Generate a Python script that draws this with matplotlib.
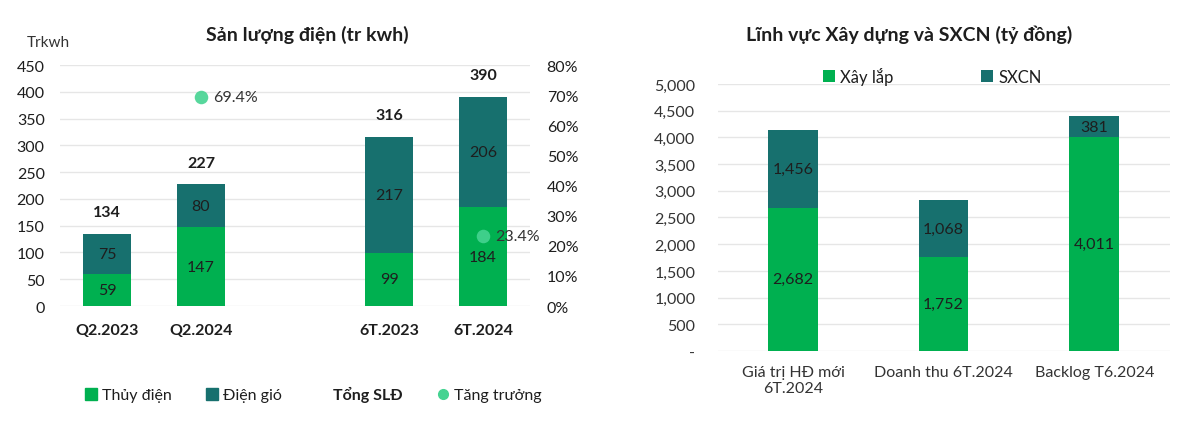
import matplotlib.pyplot as plt
from matplotlib.ticker import FuncFormatter
from matplotlib.lines import Line2D

plt.rcParams['font.family'] = ['Lato', 'DejaVu Sans']

GREEN = '#00B050'
TEAL = '#17706E'
DOT = '#45D391'
GRID = '#E6E6E6'
TXT = '#1E1E1E'

# left chart data
periods = ['Q2.2023', 'Q2.2024', '6T.2023', '6T.2024']
pos = [0, 1, 3, 4]
thuy_dien = [59, 147, 99, 184]
dien_gio = [75, 80, 217, 206]
tong_sld = [134, 227, 316, 390]
growth_pos = [1, 4]
growth = [0.694, 0.234]

# right chart data
groups = ['Giá trị HĐ mới\n6T.2024', 'Doanh thu 6T.2024', 'Backlog T6.2024']
xay_lap = [2682, 1752, 4011]
sxcn = [1456, 1068, 381]

fig = plt.figure(figsize=(12, 4.31), dpi=100)

# ---- left: San luong dien
ax = fig.add_axes([0.05, 0.2877, 0.3917, 0.559])
ax.bar(pos, thuy_dien, width=0.51, color=GREEN, zorder=2)
ax.bar(pos, dien_gio, width=0.51, bottom=thuy_dien, color=TEAL, zorder=2)
for x, a, b, t in zip(pos, thuy_dien, dien_gio, tong_sld):
    ax.text(x, a / 2, f'{a}', ha='center', va='center', fontsize=11.5, color=TXT)
    ax.text(x, a + b / 2, f'{b}', ha='center', va='center', fontsize=11.5, color=TXT)
    ax.text(x, t + 41, f'{t}', ha='center', va='center', fontsize=11.5, fontweight='bold', color=TXT)
ax.set_xlim(-0.5, 4.5)
ax.set_ylim(0, 450)
ax.set_yticks(range(0, 451, 50))
ax.set_xticks(pos)
ax.set_xticklabels(periods, fontweight='bold', fontsize=11.5, color=TXT)
ax.grid(axis='y', color=GRID, lw=1, zorder=0)
for s in ax.spines.values():
    s.set_visible(False)
ax.tick_params(length=0, labelsize=11.5, colors=TXT)
ax.tick_params(axis='x', pad=12)
ax.tick_params(axis='y', pad=11)

ax2 = ax.twinx()
ax2.set_ylim(0, 0.8)
ax2.set_yticks([i / 10 for i in range(9)])
ax2.yaxis.set_major_formatter(FuncFormatter(lambda v, _: f'{v:.0%}'))
ax2.scatter(growth_pos, growth, s=95, color=DOT, alpha=0.9, lw=0, zorder=3)
for x, g in zip(growth_pos, growth):
    ax2.text(x + 0.13, g, f'{g:.1%}', ha='left', va='center', fontsize=11.5, color='#333333')
for s in ax2.spines.values():
    s.set_visible(False)
ax2.tick_params(length=0, labelsize=11.5, colors=TXT, pad=12)

fig.text(0.256, 0.919, 'Sản lượng điện (tr kwh)', ha='center', va='center', fontsize=14, fontweight='bold', color=TXT)
fig.text(0.022, 0.9, 'Trkwh', ha='left', va='center', fontsize=11, color='#333333')

handles = [
    Line2D([], [], marker='s', ls='', color=GREEN, markersize=8),
    Line2D([], [], marker='s', ls='', color=TEAL, markersize=8),
    Line2D([], [], ls='', marker=None),
    Line2D([], [], marker='o', ls='', color=DOT, markersize=7),
]
leg = fig.legend(handles, ['Thủy điện', 'Điện gió', 'Tổng SLĐ', 'Tăng trưởng'], loc='center',
                 bbox_to_anchor=(0.261, 0.083), ncol=4, frameon=False, fontsize=11.5,
                 handlelength=0.8, handletextpad=0.3, columnspacing=2.1)
for t in leg.get_texts():
    t.set_color(TXT)
leg.get_texts()[2].set_fontweight('bold')

# ---- right: Linh vuc Xay dung va SXCN
bx = fig.add_axes([0.598, 0.1833, 0.3767, 0.6195])
gx = range(len(groups))
bx.bar(gx, xay_lap, width=0.33, color=GREEN, zorder=2, label='Xây lắp')
bx.bar(gx, sxcn, width=0.33, bottom=xay_lap, color=TEAL, zorder=2, label='SXCN')
for x, a, b in zip(gx, xay_lap, sxcn):
    bx.text(x, a / 2, f'{a:,}', ha='center', va='center', fontsize=11.5, color=TXT)
    bx.text(x, a + b / 2, f'{b:,}', ha='center', va='center', fontsize=11.5, color=TXT)
bx.set_xlim(-0.5, 2.5)
bx.set_ylim(0, 5000)
bx.set_yticks(range(0, 5001, 500))
bx.yaxis.set_major_formatter(FuncFormatter(lambda v, _: '-' if v == 0 else f'{int(v):,}'))
bx.set_xticks(list(gx))
bx.set_xticklabels(groups, fontsize=11.5, color='#333333')
bx.grid(axis='y', color=GRID, lw=1, zorder=0)
for s in bx.spines.values():
    s.set_visible(False)
bx.tick_params(length=0, labelsize=11.5, colors='#333333')
bx.tick_params(axis='x', pad=10)
bx.tick_params(axis='y', pad=16)
bleg = bx.legend(loc='center', bbox_to_anchor=(0.475, 1.03), ncol=2, frameon=False, fontsize=12,
                 handlelength=0.7, handleheight=0.7, handletextpad=0.3, columnspacing=5.3)
for t in bleg.get_texts():
    t.set_color(TXT)

fig.text(0.758, 0.919, 'Lĩnh vực Xây dựng và SXCN (tỷ đồng)', ha='center', va='center', fontsize=14, fontweight='bold', color=TXT)

fig.savefig('out.png', dpi=100, facecolor='white')
